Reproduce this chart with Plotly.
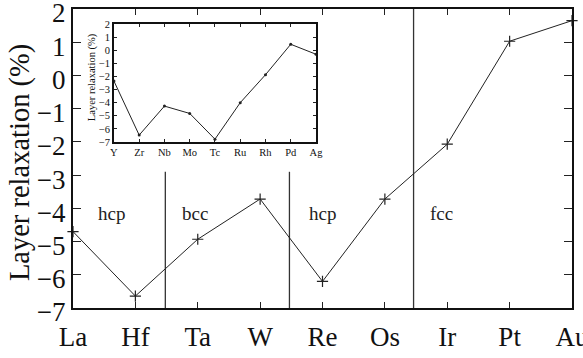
import plotly.graph_objects as go

main_labels = ["La", "Hf", "Ta", "W", "Re", "Os", "Ir", "Pt", "Au"]
main_values = [-4.70, -6.64, -4.93, -3.72, -6.20, -3.72, -2.07, 1.03, 1.65]

inset_labels = ["Y", "Zr", "Nb", "Mo", "Tc", "Ru", "Rh", "Pd", "Ag"]
inset_values = [-2.35, -6.47, -4.26, -4.82, -6.78, -4.0, -1.87, 0.45, -0.31]

y_ticks = [-7, -6, -5, -4, -3, -2, -1, 0, 1, 2]
y_title = "Layer relaxation (%)"

phase_labels = ["hcp", "bcc", "hcp", "fcc"]
phase_x = [0.62, 1.96, 4.0, 5.9]
phase_y = -4.17

# phase boundaries (x position, top value)
boundary_x = [1.48, 3.47, 5.46]
boundary_top = [-2.9, -2.9, 2.0]

FONT = "Liberation Serif"
main_x = list(range(len(main_labels)))
inset_x = list(range(len(inset_labels)))

fig = go.Figure()

for bx, bt in zip(boundary_x, boundary_top):
    fig.add_trace(go.Scatter(x=[bx, bx], y=[-7, bt], mode="lines",
                             line=dict(color="#333333", width=1.3),
                             showlegend=False, hoverinfo="skip",
                             xaxis="x", yaxis="y"))

fig.add_trace(go.Scatter(x=main_x, y=main_values, mode="lines+markers",
                         line=dict(color="#222222", width=1),
                         marker=dict(symbol="cross-thin", size=8,
                                     line=dict(color="#222222", width=1.2)),
                         cliponaxis=False, showlegend=False,
                         xaxis="x", yaxis="y"))

fig.add_trace(go.Scatter(x=inset_x, y=inset_values, mode="lines+markers",
                         line=dict(color="#222222", width=1),
                         marker=dict(symbol="circle", size=3, color="#222222"),
                         cliponaxis=False, showlegend=False,
                         xaxis="x2", yaxis="y2"))

for t, px in zip(phase_labels, phase_x):
    fig.add_annotation(x=px, y=phase_y, text=t, showarrow=False,
                       xref="x", yref="y",
                       font=dict(family=FONT, size=19, color="#222222"))

# axis titles
fig.add_annotation(x=-0.106, y=0.485, xref="paper", yref="paper",
                   text=y_title, textangle=-90, showarrow=False,
                   xanchor="center", yanchor="middle",
                   font=dict(family=FONT, size=28.5, color="#111111"))
fig.add_annotation(x=0.0395, y=0.771, xref="paper", yref="paper",
                   text=y_title, textangle=-90, showarrow=False,
                   xanchor="center", yanchor="middle",
                   font=dict(family=FONT, size=10.5, color="#111111"))

fig.update_layout(
    width=583, height=358,
    margin=dict(l=73, r=11, t=9, b=50),
    paper_bgcolor="white", plot_bgcolor="white",
    font=dict(family=FONT, color="#111111"),
    xaxis=dict(range=[0, 8], tickvals=main_x, ticktext=main_labels,
               ticks="inside", ticklen=6, tickcolor="#222222",
               showgrid=False, zeroline=False, showline=True,
               linecolor="#111111", linewidth=2, mirror="ticks",
               tickfont=dict(family=FONT, size=27), domain=[0, 1],
               automargin=False, ticklabeloverflow="allow",
               ticklabelstandoff=4),
    yaxis=dict(range=[-7, 2], tickvals=y_ticks,
               ticks="inside", ticklen=8, tickcolor="#222222",
               showgrid=False, zeroline=False, showline=True,
               linecolor="#111111", linewidth=2, mirror="ticks",
               tickfont=dict(family=FONT, size=27),
               domain=[0, 1], automargin=False, ticklabeloverflow="allow",
               ticklabelshift=4),
    xaxis2=dict(range=[0, 8], tickvals=inset_x, ticktext=inset_labels,
                ticks="inside", ticklen=3, tickcolor="#222222",
                showgrid=False, zeroline=False, showline=True,
                linecolor="#111111", linewidth=1.5, mirror="ticks",
                tickfont=dict(family=FONT, size=10.5),
                domain=[0.082, 0.487], anchor="y2", automargin=False),
    yaxis2=dict(range=[-7, 2], tickvals=y_ticks,
                ticks="inside", ticklen=3, tickcolor="#222222",
                showgrid=False, zeroline=False, showline=True,
                linecolor="#111111", linewidth=1.5, mirror="ticks",
                tickfont=dict(family=FONT, size=10.5),
                domain=[0.555, 0.95], anchor="x2", automargin=False),
)

fig.write_html("out.html", config={"displayModeBar": False},
               post_script="document.body.style.margin='0';document.body.style.overflow='hidden';")
